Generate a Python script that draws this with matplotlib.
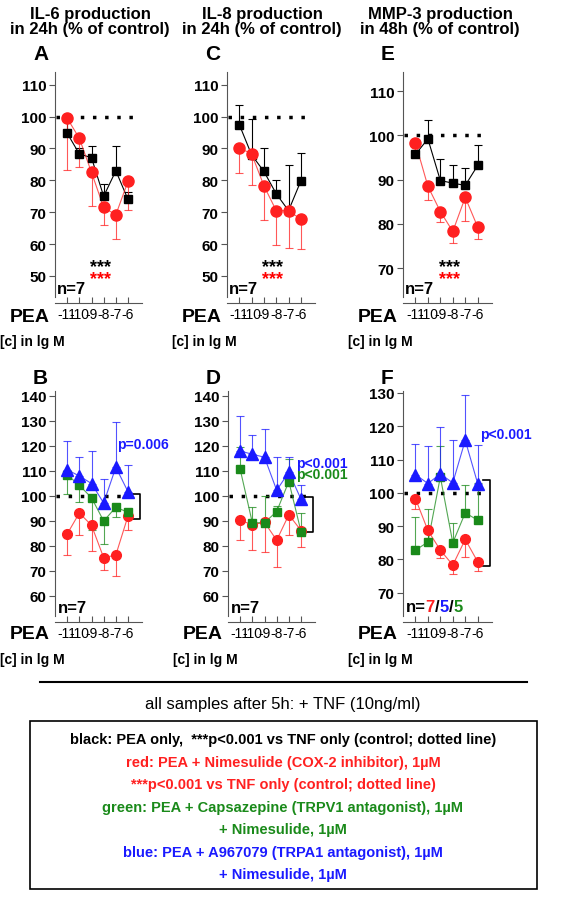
import matplotlib
matplotlib.use("Agg")
import matplotlib.pyplot as plt
import numpy as np
from matplotlib.patches import Rectangle

plt.rcParams['font.family'] = ['Liberation Sans', 'DejaVu Sans']
W, H = 567, 903
conc = [-11, -10, -9, -8, -7, -6]

# Top panels (black = PEA only, red = PEA + Nimesulide)
A_black = [94.8, 88.3, 87.1, 75, 83, 74];   A_black_err = [4.7, 2.0, 3.6, 4.0, 7.7, 2.3]
A_red = [99.5, 93.2, 82.5, 71.5, 69.2, 79.7]; A_red_err = [16.3, 9.0, 10.5, 5.5, 7.7, 8.9]
C_black = [97.5, 88, 82.8, 75.8, 70.5, 79.8]; C_black_err = [6.0, 11.3, 7.4, 4.2, 14.2, 8.9]
C_red = [90.2, 88.3, 78.3, 70.5, 70.5, 67.8]; C_red_err = [7.9, 9.8, 10.8, 10.7, 11.7, 9.2]
E_black = [95.7, 99.2, 89.8, 89.2, 88.7, 93.2]; E_black_err = [0.5, 4.3, 4.9, 4.0, 3.9, 4.6]
E_red = [98.3, 88.5, 82.8, 78.3, 86, 79.3];   E_red_err = [3.1, 3.2, 2.3, 2.7, 5.3, 2.7]

# Bottom panels (red = Nimesulide, green = + Capsazepine, blue = + A967079)
B_red = [84.8, 93.2, 88.3, 75.3, 76.4, 92.0];  B_red_err = [8.5, 8.9, 10.3, 4.8, 8.4, 5.5]
B_green = [108.5, 104.3, 99.3, 90, 95.5, 93.5]; B_green_err = [7.5, 6.8, 12.8, 9.0, 4.0, 0]
B_blue = [110.5, 108, 105, 97.2, 111.5, 101.7]; B_blue_err = [11.5, 7.5, 13.0, 9.6, 18.3, 10.6]
D_red = [90.3, 88.5, 89.5, 82.3, 92.5, 86.2];  D_red_err = [7.8, 10.0, 11.8, 10.6, 8.0, 6.4]
D_green = [110.7, 89.3, 89.3, 93.8, 105.8, 85.8]; D_green_err = [8.8, 6.4, 10.7, 2.2, 9.0, 7.5]
D_blue = [118, 116.7, 115.5, 102.3, 109.5, 98.7]; D_blue_err = [14.0, 7.8, 11.5, 13.2, 6.0, 5.8]
F_red = [98.3, 88.7, 82.8, 78.3, 86, 79.3];    F_red_err = [3.1, 3.4, 2.3, 2.7, 5.3, 2.7]
F_green = [82.8, 85.2, 104.8, 85, 94, 91.8];   F_green_err = [9.9, 9.8, 9.2, 5.8, 8.3, 11.2]
F_blue = [105.5, 102.8, 105.7, 103, 115.8, 102.8]; F_blue_err = [9.2, 11.2, 14.1, 13.0, 13.5, 11.7]

RED, GREEN, BLUE, BLACK = '#ff2020', '#1a8a1a', '#1a1aff', 'black'

fig = plt.figure(figsize=(W/100, H/100), dpi=100)

def ax_px(x0, y0, x1, y1):
    return fig.add_axes([x0/W, 1 - y1/H, (x1-x0)/W, (y1-y0)/H])

def series(ax, y, err, color, marker, ms, down):
    y = np.array(y); e = np.array(err)
    yerr = [e, np.zeros_like(e)] if down else [np.zeros_like(e), e]
    ax.errorbar(conc, y, yerr=yerr, fmt='-', color=color, lw=0.8, elinewidth=0.8,
                capsize=3, capthick=0.8, alpha=0.75 if color != BLACK else 1, zorder=2)
    ax.plot(conc, y, linestyle='none', marker=marker, color=color, ms=ms, zorder=3)

def setup(ax, ylim, yticks):
    ax.set_xlim(-12, -4.85)
    ax.set_ylim(*ylim)
    ax.set_yticks(yticks)
    ax.set_xticks(conc)
    ax.set_xticklabels([str(c) for c in conc], fontsize=4)
    for t in ax.get_yticklabels():
        t.set_fontsize(11); t.set_fontweight('bold')
    ax.spines['top'].set_visible(False); ax.spines['right'].set_visible(False)
    ax.spines['bottom'].set_position(('outward', 4))
    ax.spines['left'].set_color('#555'); ax.spines['bottom'].set_color('#555')
    ax.tick_params(axis='y', length=4, color='#555', pad=2)
    ax.tick_params(axis='x', length=4, color='#555', direction='in', pad=3)
    ax.plot([-11.9, -5.5], [100, 100], linestyle=(0, (1, 2.5)), color='black', lw=2.5, zorder=1)
    ax.patch.set_alpha(0)

tops = [
    (55, 142, (43.4, 114), [50, 60, 70, 80, 90, 100, 110], A_black, A_black_err, A_red, A_red_err, 'A',
     'IL-6 production\nin 24h (% of control)', 90),
    (227, 315, (43.4, 114), [50, 60, 70, 80, 90, 100, 110], C_black, C_black_err, C_red, C_red_err, 'C',
     'IL-8 production\nin 24h (% of control)', 262),
    (403, 492, (63.5, 114.3), [70, 80, 90, 100, 110], E_black, E_black_err, E_red, E_red_err, 'E',
     'MMP-3 production\nin 48h (% of control)', 440),
]
for x0, x1, yl, yt, bk, bke, rd, rde, letter, title, tx in tops:
    ax = ax_px(x0, 73, x1, 298)
    setup(ax, yl, yt)
    series(ax, bk, bke, BLACK, 's', 6, False)
    series(ax, rd, rde, RED, 'o', 8, True)
    ax.text(0.52, 0.115, '***', transform=ax.transAxes, color='black', fontsize=13, fontweight='bold', ha='center')
    ax.text(0.52, 0.06, '***', transform=ax.transAxes, color='red', fontsize=13, fontweight='bold', ha='center')
    ax.text(0.02, 0.02, 'n=7', transform=ax.transAxes, fontsize=12, fontweight='bold')
    fig.text((x0 - 45)/W, 1 - 317/H, 'PEA', fontsize=14, fontweight='bold', va='center')
    fig.text((x0 - 55)/W, 1 - 342/H, '[c] in lg M', fontsize=10, fontweight='bold', va='center')
    fig.text((x0 - 22)/W, 1 - 55/H, letter, fontsize=15, fontweight='bold', va='center')
    fig.text(tx/W, 1 - 22/H, title, fontsize=12, fontweight='bold', ha='center', va='center', linespacing=0.95)

bots = [
    (55, 142, (52, 142), [60, 70, 80, 90, 100, 110, 120, 130, 140], B_red, B_red_err, B_green, B_green_err, B_blue, B_blue_err, 'B', (100.7, 91)),
    (228, 315, (52, 142), [60, 70, 80, 90, 100, 110, 120, 130, 140], D_red, D_red_err, D_green, D_green_err, D_blue, D_blue_err, 'D', (99.7, 85.7)),
    (403, 492, (63, 130.6), [70, 80, 90, 100, 110, 120, 130], F_red, F_red_err, F_green, F_green_err, F_blue, F_blue_err, 'F', (104, 78)),
]
for i, (x0, x1, yl, yt, rd, rde, gr, gre, bl, ble, letter, br) in enumerate(bots):
    ax = ax_px(x0, 392, x1, 617)
    setup(ax, yl, yt)
    series(ax, rd, rde, RED, 'o', 7, True)
    series(ax, gr, gre, GREEN, 's', 6, i == 0)
    series(ax, bl, ble, BLUE, '^', 8, False)
    ax.plot([-5.55, -5.0, -5.0, -5.55], [br[0], br[0], br[1], br[1]], color='black', lw=1.2, clip_on=False)
    fig.text((x0 - 22)/W, 1 - 378/H, letter, fontsize=15, fontweight='bold', va='center')
    fig.text((x0 - 45)/W, 1 - 635/H, 'PEA', fontsize=14, fontweight='bold', va='center')
    fig.text((x0 - 55)/W, 1 - 660/H, '[c] in lg M', fontsize=10, fontweight='bold', va='center')
    if i == 0:
        ax.text(-6.9, 119, 'p=0.006', color=BLUE, fontsize=10, fontweight='bold')
        ax.text(-11.8, 53.5, 'n=7', fontsize=12, fontweight='bold')
    elif i == 1:
        ax.text(-6.4, 111.5, 'p<0.001', color=BLUE, fontsize=10, fontweight='bold')
        ax.text(-6.4, 107, 'p<0.001', color=GREEN, fontsize=10, fontweight='bold')
        ax.text(-11.8, 53.5, 'n=7', fontsize=12, fontweight='bold')
    else:
        ax.text(-5.8, 116.5, 'p<0.001', color=BLUE, fontsize=10, fontweight='bold')
        x = -11.8
        for s, c in [('n=', 'black'), ('7', RED), ('/', 'black'), ('5', BLUE), ('/', 'black'), ('5', GREEN)]:
            t = ax.text(x, 64.5, s, color=c, fontsize=12, fontweight='bold')
            fig.canvas.draw()
            bb = t.get_window_extent().transformed(ax.transData.inverted())
            x = bb.x1

# separator and footer
fig.add_artist(plt.Line2D([40/W, 527/W], [1 - 683/H, 1 - 683/H], color='black', lw=1.5))
fig.text(283/W, 1 - 705/H, 'all samples after 5h: + TNF (10ng/ml)', fontsize=12, ha='center', va='center')
fig.add_artist(Rectangle((30/W, 1 - 890/H), 507/W, 168/H, fill=False, ec='black', lw=1.2, transform=fig.transFigure))
lines = [
    ('black: PEA only,  ***p<0.001 vs TNF only (control; dotted line)', 'black', 740),
    ('red: PEA + Nimesulide (COX-2 inhibitor), 1µM', RED, 763),
    ('***p<0.001 vs TNF only (control; dotted line)', RED, 785),
    ('green: PEA + Capsazepine (TRPV1 antagonist), 1µM', GREEN, 808),
    ('+ Nimesulide, 1µM', GREEN, 830),
    ('blue: PEA + A967079 (TRPA1 antagonist), 1µM', BLUE, 853),
    ('+ Nimesulide, 1µM', BLUE, 875),
]
for s, c, y in lines:
    fig.text(283/W, 1 - y/H, s, color=c, fontsize=10.5, fontweight='bold', ha='center', va='center')

fig.savefig('out.png', dpi=100)
